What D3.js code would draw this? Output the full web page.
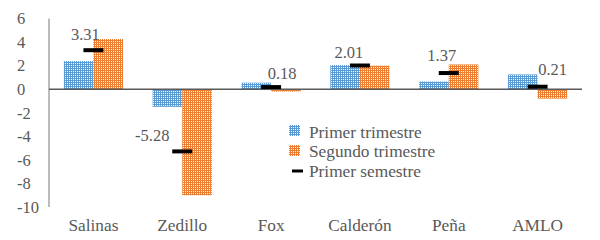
<!DOCTYPE html>
<html>
<head>
<meta charset="utf-8">
<script src="https://cdn.jsdelivr.net/npm/d3@7"></script>
<style>
  body { margin: 0; background: #fff; }
</style>
</head>
<body>
<script>
// datos
var sexenios = ["Salinas", "Zedillo", "Fox", "Calderón", "Peña", "AMLO"];
var primerTrim = [2.39, -1.5, 0.55, 2.05, 0.65, 1.25];
var segundoTrim = [4.26, -9.0, -0.2, 2.0, 2.1, -0.8];
var primerSem = [3.31, -5.28, 0.18, 2.01, 1.37, 0.21];
var yTicks = [6, 4, 2, 0, -2, -4, -6, -8, -10];
var leyenda = ["Primer trimestre", "Segundo trimestre", "Primer semestre"];

// label nudges (px), like the hand-placed excel labels
var labelDx = [-8, -30, 11, -11, -7, 15];
var labelDy = [-10, -10, -8, -8, -12, -12];

var width = 600, height = 240;
var fuente = "'Liberation Serif', 'Times New Roman', serif";

var svg = d3.select("body").append("svg")
  .attr("width", width)
  .attr("height", height)
  .attr("font-family", fuente);

var defs = svg.append("defs");
function dots(id, color) {
  var p = defs.append("pattern")
    .attr("id", id)
    .attr("x", 0).attr("y", 0)
    .attr("width", 2)
    .attr("height", 2)
    .attr("patternUnits", "userSpaceOnUse");
  p.append("rect").attr("width", 2).attr("height", 2).attr("fill", color);
  p.append("rect").attr("x", 1).attr("y", 1).attr("width", 1).attr("height", 1).attr("fill", "#fff");
}
dots("azul", "#5B9BD5");
dots("naranja", "#ED7D31");

var x = d3.scaleBand().domain(sexenios).range([49, 582]);
var y = d3.scaleLinear().domain([-10, 6]).range([207, 18.5]);
var bw = x.bandwidth();
var xs = d3.scaleBand().domain([0, 1]).range([bw / 6, bw * 5 / 6]);

function txt(size) {
  return function(sel) {
    sel.attr("font-family", fuente).attr("fill", "#595959").style("font-size", size + "px");
  };
}

// y axis labels (left aligned like the original)
svg.append("g").selectAll("text")
  .data(yTicks)
  .enter().append("text")
  .attr("x", 17)
  .attr("y", function(d) { return y(d); })
  .attr("dy", "0.35em")
  .call(txt(16.5))
  .text(function(d) { return d; });

var series = [
  { vals: primerTrim, fill: "url(#azul)" },
  { vals: segundoTrim, fill: "url(#naranja)" }
];

series.forEach(function(s, i) {
  svg.append("g").selectAll("rect")
    .data(sexenios)
    .enter().append("rect")
    .attr("x", function(d) { return x(d) + xs(i); })
    .attr("width", xs.bandwidth())
    .attr("y", function(d, j) { return y(Math.max(0, s.vals[j])); })
    .attr("height", function(d, j) { return Math.abs(y(s.vals[j]) - y(0)); })
    .attr("fill", s.fill);
});

// axes lines
svg.append("line")
  .attr("x1", 49).attr("x2", 49)
  .attr("y1", y(6)).attr("y2", y(-10))
  .attr("stroke", "#A6A6A6").attr("stroke-width", 1.5);
svg.append("line")
  .attr("x1", 49).attr("x2", 582)
  .attr("y1", y(0)).attr("y2", y(0))
  .attr("stroke", "#595959").attr("stroke-width", 1.5);

// semester markers
svg.append("g").selectAll("line")
  .data(sexenios)
  .enter().append("line")
  .attr("x1", function(d) { return x(d) + bw / 2 - 10; })
  .attr("x2", function(d) { return x(d) + bw / 2 + 10; })
  .attr("y1", function(d, i) { return y(primerSem[i]); })
  .attr("y2", function(d, i) { return y(primerSem[i]); })
  .attr("stroke", "#000").attr("stroke-width", 4);

svg.append("g").selectAll("text")
  .data(sexenios)
  .enter().append("text")
  .attr("x", function(d, i) { return x(d) + bw / 2 + labelDx[i]; })
  .attr("y", function(d, i) { return y(primerSem[i]) + labelDy[i]; })
  .attr("text-anchor", "middle")
  .call(txt(16.5))
  .text(function(d, i) { return primerSem[i].toFixed(2); });

// category labels
svg.append("g").selectAll("text")
  .data(sexenios)
  .enter().append("text")
  .attr("x", function(d) { return x(d) + bw / 2; })
  .attr("y", 231)
  .attr("text-anchor", "middle")
  .call(txt(17.3))
  .text(function(d) { return d; });

// legend
var lx = 289, ly = 125;
svg.append("rect").attr("x", lx).attr("y", ly).attr("width", 11).attr("height", 11).attr("fill", "url(#azul)");
svg.append("rect").attr("x", lx).attr("y", ly + 20).attr("width", 11).attr("height", 11).attr("fill", "url(#naranja)");
svg.append("line").attr("x1", lx + 3).attr("x2", lx + 14).attr("y1", ly + 46).attr("y2", ly + 46)
  .attr("stroke", "#000").attr("stroke-width", 3);
svg.append("g").selectAll("text")
  .data(leyenda)
  .enter().append("text")
  .attr("x", lx + 20)
  .attr("y", function(d, i) { return ly + 12.5 + i * 19.5; })
  .call(txt(17.3))
  .text(function(d) { return d; });
</script>
</body>
</html>
